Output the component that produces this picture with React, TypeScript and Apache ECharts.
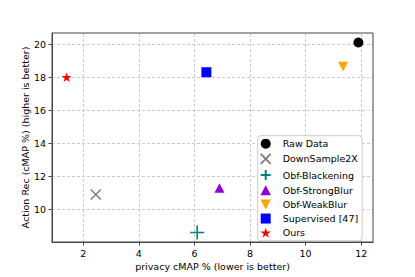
import React, { useEffect, useRef } from "react";
import * as echarts from "echarts";

const methods = [
  "Raw Data",
  "DownSample2X",
  "Obf-Blackening",
  "Obf-StrongBlur",
  "Obf-WeakBlur",
  "Supervised [47]",
  "Ours",
];
const privacyX = [11.9, 2.45, 6.1, 6.9, 11.35, 6.43, 1.4];
const actionY = [20.1, 10.9, 8.6, 11.3, 18.65, 18.3, 18.0];
const xTicks = [2, 4, 6, 8, 10, 12];
const yTicks = [10, 12, 14, 16, 18, 20];

const STAR =
  "path://M50,0 L61.23,34.55 L97.55,34.55 L68.16,55.9 L79.39,90.45 L50,69.1 L20.61,90.45 L31.84,55.9 L2.45,34.55 L38.77,34.55 Z";
const XMARK = "path://M0,0L10,10M10,0L0,10";
const PLUS = "path://M5,0L5,10M0,5L10,5";
const TRI_UP = "path://M5,0L10,9.5L0,9.5Z";
const TRI_DOWN = "path://M0,0L10,0L5,9.5Z";
const SQUARE = "path://M0,0L10,0L10,10L0,10Z";

const styles: any[] = [
  { symbol: "circle", size: 10, color: "#000000" },
  { symbol: XMARK, size: 10, stroke: "#808080", lw: 1.6 },
  { symbol: PLUS, size: 14, stroke: "#008080", lw: 1.6 },
  { symbol: TRI_UP, size: 10, color: "#9400D3" },
  { symbol: TRI_DOWN, size: 10, color: "#FFA500" },
  { symbol: SQUARE, size: 10, color: "#0000FF" },
  { symbol: STAR, size: 10, color: "#FF0000" },
];

const FONT = "DejaVu Sans";

export default function App() {
  const ref = useRef<HTMLDivElement>(null);
  useEffect(() => {
    document.body.style.margin = "0";
    const chart = echarts.init(ref.current!, null, { renderer: "svg" });
    const series: any[] = methods.map((name, i) => {
      const s = styles[i];
      const itemStyle = s.stroke
        ? { color: "rgba(0,0,0,0)", borderColor: s.stroke, borderWidth: s.lw, opacity: 1 }
        : { color: s.color, opacity: 1 };
      return {
        name,
        type: "scatter",
        symbol: s.symbol,
        symbolSize: s.size,
        symbolKeepAspect: true,
        itemStyle,
        z: 3,
        data: [[privacyX[i], actionY[i]]],
      };
    });
    series.push({
      name: "grid",
      type: "scatter",
      data: [],
      z: 1,
      silent: true,
      markLine: {
        silent: true,
        z: 1,
        symbol: "none",
        animation: false,
        label: { show: false },
        lineStyle: { type: [3, 2], color: "#c4c4c4", width: 0.9 },
        emphasis: { disabled: true },
        data: [
          ...xTicks.map((v) => ({ xAxis: v })),
          ...yTicks.map((v) => ({ yAxis: v })),
        ],
      },
    });
    chart.setOption({
      animation: false,
      textStyle: { fontFamily: FONT },
      grid: {
        left: 52,
        right: 42,
        top: 33,
        bottom: 35,
        show: true,
        borderColor: "#444",
        borderWidth: 1,
        z: 2,
      },
      xAxis: {
        type: "value",
        min: 0.875,
        max: 12.425,
        name: "privacy cMAP % (lower is better)",
        nameLocation: "middle",
        nameGap: 19,
        nameMoveOverlap: false,
        nameTextStyle: { fontSize: 9.5, color: "#000", fontFamily: FONT },
        axisLine: { show: true, onZero: false, lineStyle: { color: "#444", width: 1 } },
        axisTick: {
          show: true,
          length: 3.5,
          customValues: xTicks,
          lineStyle: { color: "#444" },
        },
        axisLabel: {
          customValues: xTicks,
          fontSize: 9.5,
          color: "#000",
          margin: 6,
          fontFamily: FONT,
        },
        splitLine: { show: false },
      },
      yAxis: {
        type: "value",
        min: 8.025,
        max: 20.675,
        name: "Action Rec (cMAP %) (higher is better)",
        nameLocation: "middle",
        nameGap: 22,
        nameMoveOverlap: false,
        nameTextStyle: { fontSize: 9.5, color: "#000", fontFamily: FONT },
        axisLine: { show: true, onZero: false, lineStyle: { color: "#444", width: 1 } },
        axisTick: {
          show: true,
          length: 3.5,
          customValues: yTicks,
          lineStyle: { color: "#444" },
        },
        axisLabel: {
          customValues: yTicks,
          fontSize: 9.5,
          color: "#000",
          margin: 6,
          fontFamily: FONT,
        },
        splitLine: { show: false },
      },
      legend: {
        data: methods,
        orient: "vertical",
        left: 257.7,
        top: 135.7,
        itemWidth: 24,
        itemHeight: 10,
        itemGap: 4.17,
        padding: [3, 4, 3, 2],
        backgroundColor: "#ffffff",
        borderColor: "#cccccc",
        borderWidth: 1,
        borderRadius: 3,
        symbolKeepAspect: true,
        textStyle: { fontSize: 9.5, color: "#000", fontFamily: FONT },
        selectedMode: false,
        z: 10,
      },
      series,
    });
    return () => chart.dispose();
  }, []);
  return <div ref={ref} style={{ width: 415, height: 277 }} />;
}
